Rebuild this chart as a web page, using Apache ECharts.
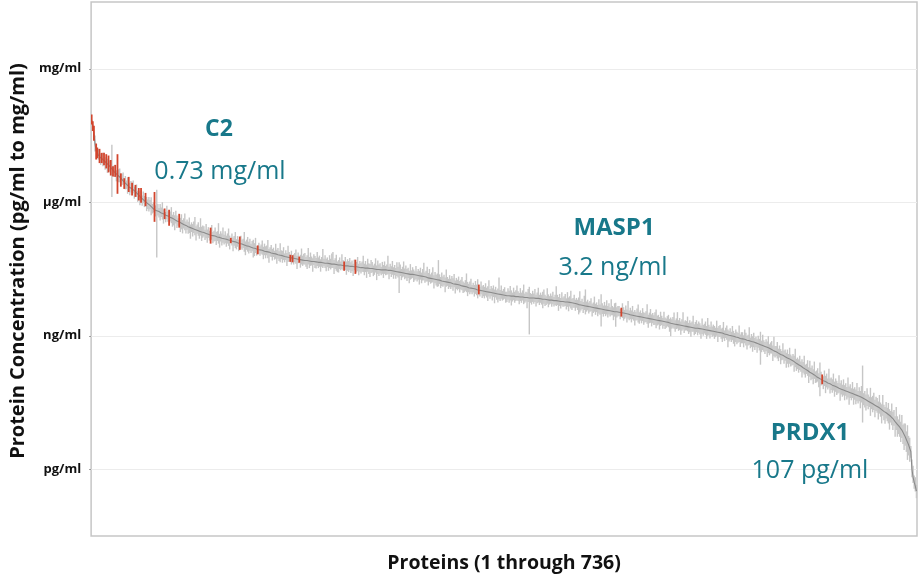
<!DOCTYPE html>
<html>
<head>
<meta charset="utf-8">
<script src="https://cdn.jsdelivr.net/npm/echarts@6/dist/echarts.min.js"></script>
<style>
html,body{margin:0;padding:0;background:#fff;}
#chart{width:922px;height:578px;}
</style>
</head>
<body>
<div id="chart"></div>
<script>
// log10 of concentration in pg/ml, proteins sorted 1..736
const medianLog = [
7.85,7.72,7.56,7.30,7.16,7.11,7.06,7.02,7.00,6.98,
6.96,6.93,6.91,6.88,6.86,6.83,6.81,6.78,6.75,6.72,
6.69,6.66,6.64,6.61,6.59,6.56,6.54,6.51,6.48,6.46,
6.43,6.40,6.38,6.35,6.33,6.31,6.30,6.28,6.26,6.24,
6.21,6.18,6.16,6.13,6.10,6.08,6.06,6.04,6.01,5.99,
5.97,5.95,5.93,5.90,5.88,5.85,5.83,5.82,5.81,5.80,
5.79,5.77,5.76,5.75,5.74,5.72,5.71,5.70,5.69,5.67,
5.66,5.65,5.64,5.62,5.61,5.60,5.58,5.57,5.56,5.54,
5.53,5.52,5.50,5.49,5.48,5.46,5.45,5.44,5.43,5.42,
5.41,5.40,5.39,5.38,5.37,5.36,5.35,5.34,5.33,5.33,
5.32,5.31,5.30,5.29,5.28,5.27,5.26,5.26,5.25,5.24,
5.24,5.23,5.22,5.21,5.21,5.20,5.19,5.19,5.18,5.17,
5.17,5.16,5.15,5.15,5.14,5.13,5.12,5.11,5.11,5.10,
5.09,5.08,5.07,5.06,5.06,5.05,5.04,5.03,5.02,5.01,
5.01,5.00,4.99,4.98,4.97,4.96,4.96,4.95,4.94,4.93,
4.93,4.92,4.92,4.91,4.90,4.90,4.89,4.88,4.88,4.87,
4.86,4.86,4.85,4.84,4.84,4.83,4.82,4.82,4.81,4.80,
4.80,4.79,4.78,4.78,4.77,4.77,4.76,4.75,4.75,4.74,
4.74,4.73,4.73,4.72,4.72,4.71,4.71,4.70,4.70,4.70,
4.69,4.69,4.69,4.68,4.68,4.68,4.67,4.67,4.67,4.66,
4.66,4.66,4.65,4.65,4.65,4.64,4.64,4.64,4.63,4.63,
4.63,4.62,4.62,4.62,4.61,4.61,4.61,4.60,4.60,4.60,
4.59,4.59,4.59,4.58,4.58,4.58,4.57,4.57,4.57,4.57,
4.56,4.56,4.56,4.55,4.55,4.55,4.55,4.54,4.54,4.54,
4.53,4.53,4.53,4.53,4.52,4.52,4.52,4.51,4.51,4.51,
4.51,4.50,4.50,4.50,4.49,4.49,4.49,4.49,4.48,4.48,
4.48,4.48,4.48,4.47,4.47,4.47,4.47,4.46,4.46,4.45,
4.45,4.44,4.44,4.44,4.43,4.43,4.42,4.42,4.41,4.41,
4.40,4.40,4.39,4.39,4.38,4.38,4.38,4.37,4.37,4.36,
4.36,4.35,4.35,4.34,4.34,4.33,4.33,4.32,4.32,4.31,
4.30,4.30,4.29,4.29,4.28,4.28,4.27,4.26,4.26,4.25,
4.25,4.24,4.23,4.23,4.22,4.22,4.21,4.20,4.20,4.19,
4.19,4.18,4.17,4.17,4.16,4.16,4.15,4.14,4.14,4.13,
4.12,4.12,4.11,4.10,4.10,4.09,4.08,4.08,4.07,4.06,
4.06,4.05,4.05,4.04,4.03,4.03,4.02,4.02,4.01,4.00,
4.00,3.99,3.99,3.98,3.98,3.97,3.97,3.96,3.96,3.95,
3.95,3.94,3.94,3.93,3.93,3.92,3.92,3.91,3.91,3.91,
3.90,3.90,3.90,3.90,3.89,3.89,3.89,3.89,3.88,3.88,
3.88,3.88,3.87,3.87,3.87,3.87,3.86,3.86,3.86,3.86,
3.85,3.85,3.85,3.85,3.85,3.84,3.84,3.84,3.84,3.83,
3.83,3.83,3.82,3.82,3.82,3.81,3.81,3.81,3.80,3.80,
3.80,3.80,3.79,3.79,3.79,3.78,3.78,3.78,3.77,3.77,
3.77,3.76,3.76,3.76,3.76,3.75,3.75,3.74,3.74,3.73,
3.73,3.72,3.72,3.71,3.70,3.70,3.69,3.69,3.68,3.68,
3.67,3.67,3.66,3.66,3.65,3.64,3.64,3.63,3.63,3.62,
3.62,3.61,3.61,3.60,3.60,3.59,3.59,3.58,3.58,3.57,
3.57,3.57,3.56,3.56,3.55,3.55,3.54,3.54,3.54,3.53,
3.53,3.52,3.52,3.51,3.51,3.50,3.50,3.49,3.49,3.48,
3.47,3.47,3.46,3.46,3.45,3.45,3.44,3.44,3.43,3.43,
3.42,3.42,3.41,3.41,3.40,3.40,3.39,3.39,3.38,3.38,
3.37,3.37,3.36,3.35,3.35,3.34,3.34,3.33,3.33,3.32,
3.32,3.31,3.31,3.30,3.30,3.29,3.28,3.28,3.27,3.27,
3.26,3.26,3.25,3.25,3.24,3.24,3.23,3.23,3.22,3.22,
3.21,3.21,3.20,3.20,3.19,3.19,3.18,3.18,3.17,3.17,
3.17,3.16,3.16,3.15,3.15,3.14,3.14,3.13,3.13,3.12,
3.12,3.12,3.11,3.11,3.10,3.10,3.09,3.09,3.08,3.08,
3.07,3.06,3.06,3.05,3.04,3.04,3.03,3.02,3.01,3.01,
3.00,2.99,2.99,2.98,2.97,2.96,2.96,2.95,2.94,2.94,
2.93,2.92,2.92,2.91,2.90,2.89,2.89,2.88,2.87,2.87,
2.86,2.85,2.84,2.83,2.82,2.81,2.80,2.79,2.78,2.77,
2.76,2.75,2.74,2.73,2.72,2.71,2.69,2.68,2.66,2.65,
2.64,2.62,2.61,2.60,2.58,2.57,2.56,2.54,2.53,2.52,
2.50,2.49,2.48,2.46,2.45,2.43,2.42,2.40,2.38,2.37,
2.35,2.33,2.32,2.30,2.28,2.27,2.25,2.23,2.22,2.20,
2.18,2.17,2.15,2.13,2.12,2.10,2.08,2.07,2.05,2.03,
2.02,2.01,1.99,1.98,1.97,1.96,1.94,1.93,1.92,1.91,
1.89,1.88,1.87,1.86,1.85,1.83,1.82,1.81,1.80,1.79,
1.78,1.77,1.76,1.75,1.74,1.73,1.72,1.71,1.70,1.69,
1.68,1.67,1.66,1.65,1.64,1.63,1.62,1.61,1.59,1.58,
1.56,1.55,1.53,1.52,1.50,1.49,1.47,1.46,1.44,1.43,
1.41,1.40,1.38,1.36,1.34,1.32,1.30,1.28,1.27,1.25,
1.23,1.21,1.19,1.17,1.14,1.11,1.07,1.04,1.01,0.98,
0.95,0.91,0.88,0.83,0.78,0.73,0.67,0.61,0.55,0.47,
0.40,0.00,-0.18,-0.29,-0.38,-0.49
];

// upper extent of each protein's range, hundredths of a log unit above median
const rangeUp = [
12,10,16,20,16,12,14,18,10,13,
15,18,10,20,12,22,13,17,54,9,
14,18,8,47,15,20,11,13,19,8,
16,9,18,22,11,17,14,21,9,15,
19,8,16,12,22,7,18,10,20,13,
9,17,12,21,8,15,40,11,47,16,
8,19,12,25,10,14,7,22,11,16,
13,24,8,16,10,21,12,7,18,11,
20,8,14,26,9,15,11,22,7,13,
10,17,28,8,13,19,9,30,12,15,
14,7,21,10,16,9,17,23,8,12,
19,10,13,32,8,15,11,24,9,18,
8,14,26,10,6,17,9,13,22,7,
15,8,16,19,10,13,29,9,14,21,
10,18,8,15,19,12,24,7,9,16,
8,13,22,9,17,11,14,27,7,12,
18,9,13,7,23,10,15,8,27,12,
11,20,7,14,9,25,12,7,16,7,
9,13,21,8,15,7,11,26,10,14,
17,8,12,29,9,19,11,7,16,13,
9,22,11,15,7,13,31,9,18,10,
13,8,19,11,24,27,9,14,22,7,
11,17,8,25,12,9,20,10,15,11,
19,9,13,7,16,16,11,23,8,14,
10,14,27,9,16,8,21,12,10,19,
15,8,12,24,9,20,11,14,7,18,
11,19,9,13,33,8,15,10,22,9,
14,8,21,11,22,17,8,13,26,10,
18,10,14,7,23,9,16,12,8,21,
9,15,11,19,8,17,31,10,14,24,
11,20,9,13,26,8,16,11,14,45,
13,8,19,10,15,9,28,12,8,17,
9,16,12,22,8,14,11,19,9,13,
20,10,8,15,30,12,9,14,21,8,
13,9,18,11,24,12,8,20,10,14,
10,19,9,13,27,8,15,11,17,9,
15,8,12,38,10,21,9,14,18,8,
9,17,11,22,13,8,19,10,14,25,
12,8,20,10,15,28,9,13,11,19,
25,11,9,16,10,21,8,13,24,9,
14,9,17,22,10,8,26,12,9,15,
10,19,8,13,32,14,9,16,8,21,
9,13,18,8,22,11,14,27,9,12,
19,9,13,10,16,30,9,14,8,22,
37,10,15,9,13,20,8,12,25,10,
13,8,21,10,33,14,9,18,10,23,
10,16,8,26,12,9,19,20,10,14,
14,8,11,22,13,8,18,10,29,9,
16,10,21,8,13,9,17,26,10,14,
9,20,12,10,15,31,8,13,22,10,
14,9,17,24,10,13,8,21,12,8,
22,10,8,14,17,9,13,9,15,25,
9,13,28,10,16,8,14,30,10,13,
12,22,9,15,10,13,27,8,14,18,
10,16,12,8,24,10,13,19,9,28,
13,8,21,10,15,12,9,25,10,14,
17,10,12,26,8,14,20,12,10,16,
9,23,12,8,17,13,10,28,9,14,
15,9,22,16,10,13,30,8,17,12,
21,10,14,9,18,12,29,10,24,13,
10,17,13,26,9,14,19,10,32,12,
13,24,10,18,12,9,27,13,16,10,
19,10,25,12,9,16,13,31,10,14,
12,22,10,17,13,28,10,14,23,9,
26,11,18,12,30,10,14,20,11,37,
17,12,10,24,13,19,10,33,12,15,
13,27,10,18,14,11,29,12,20,11,
24,12,17,10,32,13,19,11,26,12,
16,12,28,11,20,13,25,72,12,18,
12,27,15,11,33,13,18,26,12,20,
19,12,29,14,12,35,15,12,24,13,
26,14,12,31,15,22,12,36,18,14,
28,16,34,17,25,30,18,38,20,24,
12,22,26,15,20,14
];

// lower extent of each protein's range, hundredths of a log unit below median
const rangeDown = [
10,12,18,16,20,12,10,14,16,10,
15,10,18,12,20,16,12,18,63,14,
12,9,17,42,14,11,19,12,8,16,
14,10,19,12,17,9,15,8,18,12,
9,17,12,20,11,16,8,15,10,19,
12,16,9,19,13,8,27,14,105,10,
13,18,9,14,22,10,16,8,13,20,
9,12,19,14,24,8,16,10,13,21,
14,22,9,12,18,8,16,13,25,9,
18,9,13,24,8,11,17,9,20,13,
9,16,11,20,8,13,19,10,17,12,
11,19,9,14,23,8,16,10,13,9,
17,9,13,21,6,10,22,9,14,16,
9,18,14,10,13,8,15,22,9,12,
16,9,13,8,21,17,10,15,11,9,
13,8,10,19,9,16,8,14,24,9,
9,17,8,13,11,21,9,14,16,8,
16,9,13,8,20,11,9,9,15,9,
14,8,11,22,9,7,18,10,13,10,
9,14,19,8,16,11,9,23,8,14,
15,9,13,10,21,9,12,8,11,18,
9,16,10,13,9,9,22,10,14,17,
17,9,12,8,11,12,9,20,11,14,
9,15,11,21,8,16,13,9,18,10,
13,9,10,17,9,22,8,12,19,10,
9,16,13,8,24,10,15,9,12,9,
18,9,12,10,9,20,8,14,9,17,
9,16,10,13,47,9,17,11,8,14,
10,17,9,21,12,10,8,16,13,9,
14,9,20,8,16,9,8,13,10,9,
17,9,12,10,8,22,9,13,16,14,
9,17,11,13,9,24,11,8,15,10,
14,9,16,8,21,11,13,9,17,9,
10,16,13,9,12,20,10,15,9,13,
9,17,11,13,19,10,14,9,16,11,
16,9,13,20,10,14,8,17,9,22,
9,13,19,11,15,9,13,10,8,17,
14,9,16,11,21,12,9,15,10,8,
10,17,9,13,8,16,12,9,24,10,
82,11,15,9,13,8,18,11,9,14,
9,13,20,10,15,12,9,17,10,8,
15,9,13,10,12,9,22,11,16,9,
12,10,9,17,11,20,9,13,16,10,
10,16,9,13,22,18,12,9,17,10,
19,13,9,16,11,9,21,12,9,15,
9,17,11,13,39,10,16,9,14,9,
16,9,13,10,9,20,11,34,13,9,
9,15,9,11,17,12,9,19,11,13,
10,17,9,12,22,11,9,14,16,9,
14,9,16,11,9,13,21,11,9,17,
9,13,11,18,12,9,20,11,9,16,
10,16,13,9,11,20,29,12,9,11,
17,11,9,14,11,22,12,9,16,10,
9,11,16,12,21,10,9,17,13,9,
16,9,13,22,11,14,9,11,20,12,
11,18,9,13,10,17,12,9,22,11,
9,13,20,11,16,9,12,28,14,10,
14,9,17,22,11,15,12,9,19,11,
10,18,9,13,21,11,9,16,12,23,
12,17,10,21,9,14,45,16,10,13,
17,10,22,12,16,11,9,25,12,14,
10,13,18,9,22,12,10,17,9,24,
13,20,11,15,12,9,23,11,17,12,
18,10,13,24,11,14,19,9,12,26,
10,17,12,22,9,16,13,10,21,39,
14,10,19,11,26,12,15,10,22,13,
17,11,24,12,18,13,10,27,12,16,
12,22,11,18,13,28,12,16,10,24,
12,21,13,17,11,26,12,56,15,19,
24,13,18,12,30,14,19,13,27,12,
14,28,13,18,31,12,20,26,13,17,
20,32,14,18,26,13,34,16,28,19,
22,30,18,26,35,20,28,40,24,30,
14,18,13,15,12,16
];

// highlighted proteins (drawn in red)
const redProteins = [1,2,3,5,6,8,10,12,14,16,18,20,22,24,27,30,34,37,40,43,45,49,57,66,70,79,107,125,133,149,178,180,186,226,236,346,473,652];

const yTickValues = [0, 3, 6, 9];
const yTickLabels = ['pg/ml', 'ng/ml', 'µg/ml', 'mg/ml'];

const annotations = [
  { name: 'C2', value: '0.73 mg/ml' },
  { name: 'MASP1', value: '3.2 ng/ml' },
  { name: 'PRDX1', value: '107 pg/ml' }
];

const redSet = new Set(redProteins);
const grayBars = [], redBars = [], lineData = [];
medianLog.forEach(function (m, k) {
  const idx = k + 1;
  const lo = m - rangeDown[k] / 100;
  const hi = m + rangeUp[k] / 100;
  lineData.push([idx, m]);
  (redSet.has(idx) ? redBars : grayBars).push([idx, lo, hi]);
});

function barRenderer(color, width) {
  return function (params, api) {
    const p1 = api.coord([api.value(0), api.value(1)]);
    const p2 = api.coord([api.value(0), api.value(2)]);
    return {
      type: 'line',
      shape: { x1: p1[0], y1: p1[1], x2: p2[0], y2: p2[1] },
      style: { stroke: color, lineWidth: width }
    };
  };
}

const teal = '#18788a';
const FONT = '"Open Sans", "DejaVu Sans", sans-serif';
function annoText(x, y, text, bold, size) {
  return {
    type: 'text', x: x, y: y, z: 100,
    style: { text: text, fill: teal, font: (bold ? 'bold ' : '') + size + 'px ' + FONT, textAlign: 'center', textVerticalAlign: 'middle' }
  };
}

const chart = echarts.init(document.getElementById('chart'), null, { renderer: 'canvas' });
chart.setOption({
  animation: false,
  backgroundColor: '#ffffff',
  grid: { left: 89, right: 5, top: 2, bottom: 41, show: true, borderColor: '#c6c6c6', borderWidth: 1.5, backgroundColor: 'transparent' },
  xAxis: {
    type: 'value', min: 0.5, max: medianLog.length + 0.5,
    name: 'Proteins (1 through ' + medianLog.length + ')',
    nameLocation: 'middle', nameGap: 17,
    nameTextStyle: { fontFamily: FONT, fontWeight: 'bold', fontSize: 19.5, color: '#111' },
    axisLine: { show: false }, axisTick: { show: false }, axisLabel: { show: false }, splitLine: { show: false }
  },
  yAxis: {
    type: 'value', min: -1.5, max: 10.5,
    name: 'Protein Concentration (pg/ml to mg/ml)',
    nameLocation: 'middle', nameGap: 62, nameRotate: 90,
    nameTextStyle: { fontFamily: FONT, fontWeight: 'bold', fontSize: 20, color: '#111', padding: [0, 0, 0, 16] },
    axisLine: { show: false },
    axisTick: { show: true, customValues: yTickValues, length: 2, lineStyle: { color: '#999' } },
    axisLabel: {
      customValues: yTickValues, margin: 10,
      fontFamily: FONT, fontWeight: 'bold', fontSize: 13, color: '#111',
      formatter: function (v) { const i = yTickValues.indexOf(Math.round(v)); return i >= 0 ? yTickLabels[i] : ''; }
    },
    splitLine: { show: true, lineStyle: { color: '#ececec', width: 1 } }
  },
  series: [
    { type: 'custom', name: 'range', data: grayBars, encode: { x: 0, y: [1, 2] }, renderItem: barRenderer('#c6c6c6', 1.4), z: 2, silent: true, clip: true },
    { type: 'line', name: 'median', data: lineData, showSymbol: false, symbol: 'none', lineStyle: { color: '#8a8a8a', width: 1.1 }, z: 3, silent: true },
    { type: 'custom', name: 'highlight', data: redBars, encode: { x: 0, y: [1, 2] }, renderItem: barRenderer('#d2452d', 1.8), z: 4, silent: true, clip: true }
  ],
  graphic: [
    annoText(219, 129, annotations[0].name, true, 23),
    annoText(220, 172, annotations[0].value, false, 25),
    annoText(614, 228, annotations[1].name, true, 24),
    annoText(613, 268, annotations[1].value, false, 25),
    annoText(810, 433, annotations[2].name, true, 24),
    annoText(810, 471, annotations[2].value, false, 25)
  ]
});
</script>
</body>
</html>
